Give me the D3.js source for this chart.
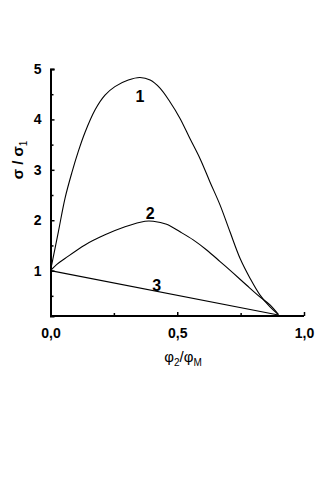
<!DOCTYPE html>
<html>
<head>
<meta charset="utf-8">
<script src="https://cdn.jsdelivr.net/npm/d3@7"></script>
<style>
body { margin: 0; background: #fff; }
svg { display: block; }
text { font-family: "Liberation Sans", Arial, sans-serif; fill: #000; }
</style>
</head>
<body>
<svg width="333" height="480"></svg>
<script>
// curve 1
let x1 = [0, 0.031, 0.057, 0.084, 0.110, 0.136, 0.176, 0.215, 0.254, 0.307, 0.353, 0.393, 0.432, 0.471, 0.511, 0.550, 0.590, 0.629, 0.669, 0.708, 0.748, 0.787, 0.826, 0.866, 0.899]
let y1 = [1, 1.77, 2.43, 2.94, 3.37, 3.74, 4.19, 4.48, 4.65, 4.78, 4.83, 4.78, 4.62, 4.35, 4.02, 3.62, 3.22, 2.76, 2.30, 1.77, 1.24, 0.85, 0.52, 0.28, 0.13]
// curve 2
let x2 = [0, 0.024, 0.057, 0.136, 0.215, 0.294, 0.373, 0.405, 0.458, 0.511, 0.563, 0.616, 0.669, 0.721, 0.774, 0.826, 0.866, 0.899]
let y2 = [1, 1.12, 1.24, 1.51, 1.71, 1.87, 1.98, 1.98, 1.92, 1.77, 1.61, 1.41, 1.18, 0.95, 0.71, 0.48, 0.32, 0.13]
// curve 3
let x3 = [0, 0.899]
let y3 = [1, 0.12]

let curveLabels = [
    { name: "1", x: 0.353, y: 4.45 },
    { name: "2", x: 0.393, y: 2.14 },
    { name: "3", x: 0.419, y: 0.71 }
]

let xMajor = [0, 0.5, 1.0]
let xMinor = [0.25, 0.75]
let yMajor = [1, 2, 3, 4, 5]
let yMinor = [0.5, 1.5, 2.5, 3.5, 4.5]

let svg = d3.select("svg")

let x = d3.scaleLinear().domain([0, 1]).range([50.5, 304])
let y = d3.scaleLinear().domain([0.1, 5]).range([316, 69])

let fmt = d => d3.format(".1f")(d).replace(".", ",")

// axes
let xAxis = svg.append("g")
    .attr("transform", "translate(0,316)")
    .call(d3.axisBottom(x).tickValues(xMajor).tickSize(-4).tickFormat(fmt).tickPadding(12))
xAxis.select(".domain").attr("d", "M" + x(0) + ",0H" + x(1))
svg.append("g")
    .attr("transform", "translate(0,316)")
    .call(d3.axisBottom(x).tickValues(xMinor).tickSize(-3).tickFormat(""))
    .select(".domain").remove()

let yAxis = svg.append("g")
    .attr("transform", "translate(50.5,0)")
    .call(d3.axisLeft(y).tickValues(yMajor).tickSize(-4).tickFormat(d3.format("d")).tickPadding(9))
svg.append("g")
    .attr("transform", "translate(50.5,0)")
    .call(d3.axisLeft(y).tickValues(yMinor).tickSize(-3).tickFormat(""))
    .select(".domain").remove()

svg.selectAll(".domain").attr("stroke-width", 2)
svg.selectAll(".tick line").attr("stroke-width", 1.5)
svg.selectAll(".tick text")
    .style("font-size", "14px")
    .style("font-weight", "bold")

// curves
let line = d3.line()
    .x(d => x(d[0]))
    .y(d => y(d[1]))
    .curve(d3.curveCatmullRom)

let series = [d3.zip(x1, y1), d3.zip(x2, y2), d3.zip(x3, y3)]

svg.selectAll(".curve")
    .data(series)
    .join("path")
    .attr("class", "curve")
    .attr("d", line)
    .style("fill", "none")
    .style("stroke", "#000")
    .style("stroke-width", 1.1)

svg.selectAll(".clabel")
    .data(curveLabels)
    .join("text")
    .attr("class", "clabel")
    .attr("x", d => x(d.x))
    .attr("y", d => y(d.y))
    .attr("dy", "0.36em")
    .attr("text-anchor", "middle")
    .style("font-size", "16px")
    .style("font-weight", "bold")
    .text(d => d.name)

// axis titles
let xt = svg.append("text")
    .attr("x", 183)
    .attr("y", 362)
    .attr("text-anchor", "middle")
    .style("font-size", "15px")
xt.append("tspan").text("φ")
xt.append("tspan").attr("dy", 4).style("font-size", "10px").text("2")
xt.append("tspan").attr("dy", -4).text("/φ")
xt.append("tspan").attr("dy", 4).style("font-size", "10px").text("M")

let yt = svg.append("text")
    .attr("transform", "translate(23,160) rotate(-90)")
    .attr("text-anchor", "middle")
    .style("font-size", "15px")
    .style("font-weight", "bold")
yt.append("tspan").text("σ / σ")
yt.append("tspan").attr("dy", 4).style("font-size", "10px").style("font-weight", "normal").text("1")
</script>
</body>
</html>
